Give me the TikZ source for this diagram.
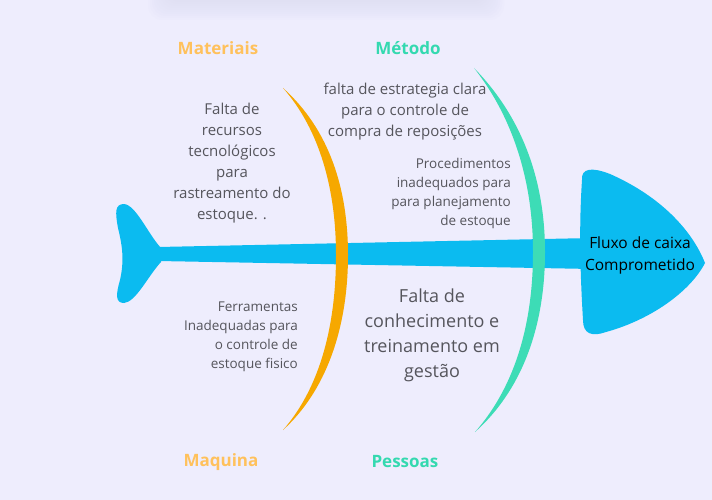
\documentclass[tikz,border=0pt]{standalone}
\usepackage{fontspec}
\setmainfont{Open Sans}
\definecolor{bgc}{RGB}{238,237,253}
\definecolor{fishblue}{RGB}{11,187,240}
\definecolor{arcorange}{RGB}{246,168,0}
\definecolor{arcteal}{RGB}{61,220,182}
\definecolor{lblorange}{RGB}{255,193,92}
\definecolor{lblteal}{RGB}{52,217,176}
\definecolor{txtgray}{RGB}{85,85,92}
\definecolor{shadowc}{RGB}{200,200,232}
\tikzset{
  cat/.style={font=\fontsize{17}{19}\selectfont\bfseries, inner sep=0pt},
  cause/.style={text=txtgray, inner sep=0pt},
}
\begin{document}
\begin{tikzpicture}[x=1pt,y=-1pt]
\useasboundingbox (0,0) rectangle (712,500);
\fill[bgc] (0,0) rectangle (712,500);
% top card shadow
\foreach \i in {0,2,...,22}{
  \fill[shadowc, opacity=0.03, rounded corners=14pt] (170-\i,-40) rectangle (482+\i,-2+\i);
}
% tail
\fill[fishblue] (161,248) .. controls (148,234) and (136,205) .. (124,204)
  .. controls (115,204) and (115,212) .. (118,228)
  .. controls (123,248) and (124,262) .. (120,280)
  .. controls (116,294) and (115,303) .. (124,303)
  .. controls (136,302) and (148,276) .. (161,262) -- cycle;
% spine
\fill[fishblue] (158,247) -- (592,238) -- (592,269) -- (158,261) -- cycle;
% head
\fill[fishblue] (582,180) .. controls (581,168) and (592,167) .. (610,174)
  .. controls (660,196) and (692,230) .. (705,263)
  .. controls (690,292) and (650,320) .. (606,332)
  .. controls (592,337) and (583,334) .. (583,320)
  .. controls (580,270) and (579,225) .. (582,180) -- cycle;
% orange crescent
\fill[arcorange] (283,88) .. controls (330,130) and (348,190) .. (348,255)
  .. controls (348,330) and (325,392) .. (283,430)
  .. controls (318,390) and (336,330) .. (336,255)
  .. controls (336,190) and (320,130) .. (283,88) -- cycle;
% teal crescent
\fill[arcteal] (474,68) .. controls (525,120) and (545,185) .. (545,252)
  .. controls (545,330) and (520,392) .. (475,432)
  .. controls (512,390) and (533,330) .. (533,252)
  .. controls (533,185) and (515,120) .. (474,68) -- cycle;
% head label
\node[inner sep=0pt, align=center, font=\fontsize{15.5}{22}\selectfont] (effect) at (640,255) {Fluxo de caixa\\Comprometido};
% category labels
\node[cat, text=lblorange] (materiais) at (218,48) {Materiais};
\node[cat, text=lblteal] (metodo) at (408,48) {Método};
\node[cat, text=lblorange] (maquina) at (221,462) {Maquina};
\node[cat, text=lblteal] (pessoas) at (405,462) {Pessoas};
% causes
\node[cause, align=center, font=\fontsize{15}{21}\selectfont] (c1) at (232,163)
  {Falta de\\recursos\\tecnológicos\\para\\rastreamento do\\estoque. .};
\node[cause, align=center, font=\fontsize{15}{21}\selectfont] (c2) at (405,112)
  {falta de estrategia clara\\para o controle de\\compra de reposições};
\node[cause, align=right, anchor=east, font=\fontsize{13.5}{19}\selectfont] (c3) at (511,193)
  {Procedimentos\\inadequados para\\para planejamento\\de estoque\hspace{3pt}};
\node[cause, align=right, anchor=east, font=\fontsize{13.5}{19}\selectfont] (c4) at (298,337)
  {Ferramentas\\Inadequadas para\\o controle de\\estoque fisico\hspace{3pt}};
\node[cause, align=center, font=\fontsize{18}{25}\selectfont] (c5) at (432,335)
  {Falta de\\conhecimento e\\treinamento em\\gestão};
\end{tikzpicture}
\end{document}
